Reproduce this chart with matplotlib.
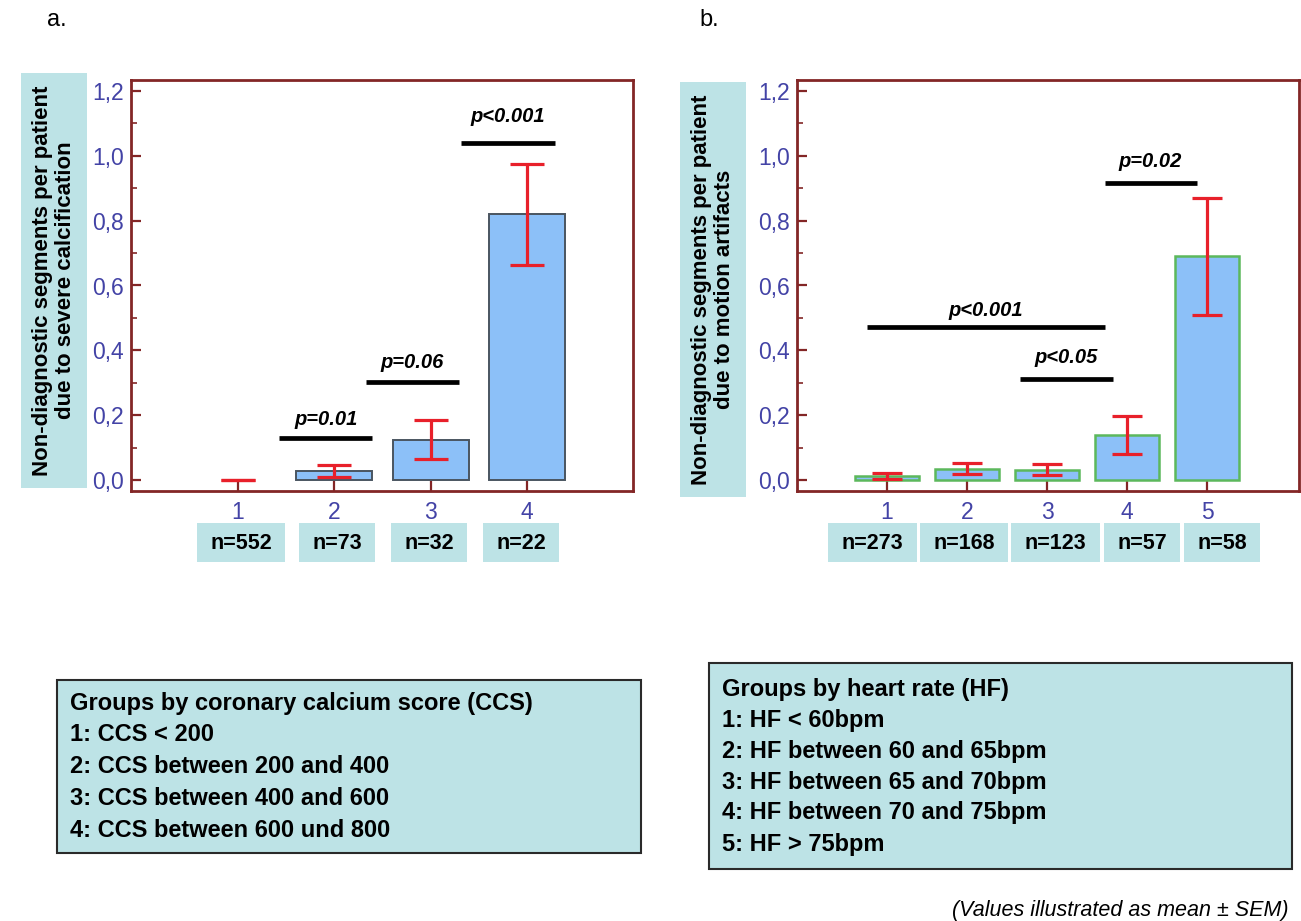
import matplotlib
matplotlib.use("Agg")
import matplotlib.pyplot as plt
from matplotlib.patches import Rectangle
from matplotlib.ticker import MultipleLocator, FixedLocator

plt.rcParams['font.family'] = ['Liberation Sans', 'DejaVu Sans']

# ---- data: panel a (coronary calcium score groups) ----
ccs_groups = [1, 2, 3, 4]
ccs_mean = [0.0, 0.027, 0.124, 0.82]
ccs_sem = [0.0, 0.019, 0.060, 0.156]
ccs_n = ["n=552", "n=73", "n=32", "n=22"]
ccs_sig = [  # (label, x from, x to, bar height, label height)
    ("p=0.01", 1.43, 2.39, 0.129, 0.188),
    ("p=0.06", 2.33, 3.29, 0.301, 0.362),
    ("p<0.001", 3.32, 4.29, 1.040, 1.120),
]
ccs_legend = [
    "Groups by coronary calcium score (CCS)",
    "1: CCS < 200",
    "2: CCS between 200 and 400",
    "3: CCS between 400 and 600",
    "4: CCS between 600 und 800",
]

# ---- data: panel b (heart rate groups) ----
hf_groups = [1, 2, 3, 4, 5]
hf_mean = [0.013, 0.035, 0.032, 0.139, 0.690]
hf_sem = [0.010, 0.017, 0.016, 0.058, 0.181]
hf_n = ["n=273", "n=168", "n=123", "n=57", "n=58"]
hf_sig = [
    ("p<0.001", 0.75, 3.73, 0.471, 0.522),
    ("p<0.05", 2.66, 3.82, 0.311, 0.377),
    ("p=0.02", 3.72, 4.87, 0.917, 0.982),
]
hf_legend = [
    "Groups by heart rate (HF)",
    "1: HF < 60bpm",
    "2: HF between 60 and 65bpm",
    "3: HF between 65 and 70bpm",
    "4: HF between 70 and 75bpm",
    "5: HF > 75bpm",
]

y_ticks = [0.0, 0.2, 0.4, 0.6, 0.8, 1.0, 1.2]

# ---- styling ----
W, H = 1301, 921
FRAME = "#832626"
TICKLAB = "#4343a6"
BAR_FILL = "#8cc0f8"
ERR = "#e8202a"
BOX = "#bde3e6"

fig = plt.figure(figsize=(W / 100, H / 100), dpi=100)
fig.patch.set_facecolor("white")


def fx(x):
    return x / W


def fy(y):
    return 1 - y / H


def fig_rect(x0, y0, x1, y1, **kw):
    fig.patches.append(Rectangle((fx(x0), fy(y1)), fx(x1) - fx(x0), fy(y0) - fy(y1),
                                 transform=fig.transFigure, **kw))


def panel(ax, groups, mean, sem, edge, edge_lw, sig, xlim, caps):
    # empty groups get no outline
    widths = [edge_lw if m > 0 else 0 for m in mean]
    ax.bar(groups, mean, width=0.79, color=BAR_FILL, edgecolor=edge,
           linewidth=widths, zorder=2)
    ax.errorbar(groups, mean, yerr=sem, fmt="none", ecolor=ERR, elinewidth=2.3,
                capsize=caps, capthick=2.3, zorder=3)
    for label, x0, x1, h, th in sig:
        ax.plot([x0, x1], [h, h], color="black", lw=3.4, solid_capstyle="butt", zorder=4)
        ax.text((x0 + x1) / 2, th, label, ha="center", va="center",
                fontsize=14.5, fontweight="bold", fontstyle="italic", zorder=4)
    ax.set_xlim(*xlim)
    ax.set_ylim(-0.034, 1.234)
    ax.yaxis.set_major_locator(FixedLocator(y_ticks))
    ax.set_yticklabels([f"{v:.1f}".replace(".", ",") for v in y_ticks])
    ax.yaxis.set_minor_locator(MultipleLocator(0.1))
    ax.set_xticks(groups)
    ax.set_xticklabels([str(g) for g in groups])
    for s in ax.spines.values():
        s.set_color(FRAME)
        s.set_linewidth(2.0)
    ax.tick_params(axis="both", which="major", direction="in", length=7,
                   width=1.6, color=FRAME, labelcolor=TICKLAB, labelsize=16.5)
    ax.tick_params(axis="y", which="minor", direction="in", length=4, width=1.2,
                   color=FRAME)
    ax.tick_params(axis="y", which="major", pad=5)
    ax.tick_params(axis="x", which="major", pad=7)
    ax.tick_params(axis="x", which="minor", bottom=False)


# ---- panel a ----
ax1 = fig.add_axes([fx(131), fy(491), fx(502), 411 / H])
panel(ax1, ccs_groups, ccs_mean, ccs_sem, "#4a5560", 1.4, ccs_sig, (-0.11, 5.10), 12)

# ---- panel b ----
ax2 = fig.add_axes([fx(797), fy(491), fx(502), 411 / H])
panel(ax2, hf_groups, hf_mean, hf_sem, "#5cb85c", 1.8, hf_sig, (-0.125, 6.15), 11)

# panel letters
fig.text(fx(57), fy(20), "a.", fontsize=17, ha="center", va="center")
fig.text(fx(709), fy(20), "b.", fontsize=17, ha="center", va="center")

# y-axis title boxes
for (x0, y0, x1, y1), title in [
    ((21, 73, 86.5, 488), "Non-diagnostic segments per patient\ndue to severe calcification"),
    ((680, 82, 746, 497), "Non-diagnostic segments per patient\ndue to motion artifacts"),
]:
    fig_rect(x0, y0, x1, y1, facecolor=BOX, edgecolor="none")
    fig.text(fx((x0 + x1) / 2), fy((y0 + y1) / 2), title, rotation=90,
             ha="center", va="center", fontsize=16, fontweight="bold",
             linespacing=1.1, multialignment="center")

# group size boxes under the axes
ccs_n_cells = [(197, 285), (299, 375), (391, 467), (483, 559)]
hf_n_cells = [(828, 917), (920, 1008), (1011, 1100), (1104, 1180), (1184, 1260)]
for cells, labels in [(ccs_n_cells, ccs_n), (hf_n_cells, hf_n)]:
    for (x0, x1), lab in zip(cells, labels):
        fig_rect(x0, 523, x1, 562, facecolor=BOX, edgecolor="none")
        fig.text(fx((x0 + x1) / 2), fy(543), lab, ha="center", va="center",
                 fontsize=15.5, fontweight="bold")

# group legends
fig_rect(57, 680, 641, 853, facecolor=BOX, edgecolor="#2a2a2a", linewidth=1.5)
for i, line in enumerate(ccs_legend):
    fig.text(fx(70), fy(703 + i * 31.8), line, ha="left", va="center",
             fontsize=17, fontweight="bold")

fig_rect(709, 663, 1292, 869, facecolor=BOX, edgecolor="#2a2a2a", linewidth=1.5)
for i, line in enumerate(hf_legend):
    fig.text(fx(722), fy(689 + i * 31), line, ha="left", va="center",
             fontsize=17, fontweight="bold")

fig.text(fx(1288), fy(910), "(Values illustrated as mean \u00b1 SEM)", ha="right",
         va="center", fontsize=15.5, fontstyle="italic")

fig.savefig("out.png", dpi=100)
